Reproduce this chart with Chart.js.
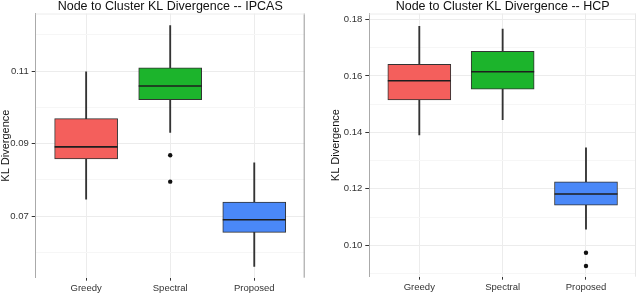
<!DOCTYPE html>
<html lang="en">
<head>
<meta charset="UTF-8" />
<title>Node to Cluster KL Divergence</title>
<script src="https://cdn.jsdelivr.net/npm/chart.js"></script>
<style>
  body {
    margin: 0;
    background: #fff;
    width: 640px;
    height: 293px;
    position: relative;
    overflow: hidden;
  }
  .panel { position: absolute; top: 0; height: 293px; }
  #left { left: 0; width: 320px; }
  #right { left: 330px; width: 310px; }
</style>
</head>
<body>
<div class="panel" id="left"><canvas id="ipcasChart"></canvas></div>
<div class="panel" id="right"><canvas id="hcpChart"></canvas></div>

<script>
  const categories = ['Greedy', 'Spectral', 'Proposed'];
  const boxColors = ['#f45f5c', '#1cb42c', '#4a88f8'];

  // IPCAS panel
  const ipcasMin = [0.0747, 0.0931, 0.0561];
  const ipcasQ1 = [0.0858, 0.1021, 0.0655];
  const ipcasMedian = [0.0891, 0.1059, 0.0690];
  const ipcasQ3 = [0.0969, 0.1109, 0.0739];
  const ipcasMax = [0.1098, 0.1226, 0.0847];
  const ipcasOutliers = [[], [0.0868, 0.0795], []];
  const ipcasTicks = ['0.07', '0.09', '0.11'];

  // HCP panel
  const hcpMin = [0.1391, 0.1445, 0.1057];
  const hcpQ1 = [0.1515, 0.1553, 0.1142];
  const hcpMedian = [0.1583, 0.1615, 0.1182];
  const hcpQ3 = [0.1641, 0.1687, 0.1225];
  const hcpMax = [0.1776, 0.1766, 0.1345];
  const hcpOutliers = [[], [], [0.0974, 0.0927]];
  const hcpTicks = ['0.10', '0.12', '0.14', '0.16', '0.18'];

  const FONT = 'Liberation Sans, Arial, Helvetica, sans-serif';

  // median bars + panel edges, drawn with the chart's own scales
  const boxExtras = {
    id: 'boxExtras',
    afterDatasetsDraw(chart, args, opts) {
      const ctx = chart.ctx;
      const y = chart.scales.y;
      const area = chart.chartArea;
      const boxes = chart.getDatasetMeta(0).data;
      ctx.save();
      ctx.strokeStyle = '#1e1e1e';
      ctx.lineWidth = 1.6;
      opts.medians.forEach((m, i) => {
        const bar = boxes[i];
        const py = y.getPixelForValue(m);
        ctx.beginPath();
        ctx.moveTo(bar.x - bar.width / 2, py);
        ctx.lineTo(bar.x + bar.width / 2, py);
        ctx.stroke();
      });
      // right edge of panel
      ctx.strokeStyle = opts.edge;
      ctx.lineWidth = 1;
      ctx.beginPath();
      ctx.moveTo(area.right - 0.5, area.top);
      ctx.lineTo(area.right - 0.5, area.bottom);
      ctx.stroke();
      ctx.strokeStyle = '#ececec';
      ctx.beginPath();
      ctx.moveTo(area.left, area.top + 0.5);
      ctx.lineTo(area.right, area.top + 0.5);
      ctx.stroke();
      ctx.restore();
    }
  };

  function drawPanel(id, title, mins, q1, med, q3, maxs, outliers, majors, yMin, yMax, axisW, padRight, xAxisH, edge) {
    const isMajor = v => majors.includes(v.toFixed(2));
    const points = [];
    outliers.forEach((list, i) => list.forEach(v => points.push({ x: i + 1, y: v })));

    new Chart(document.getElementById(id), {
      type: 'bar',
      data: {
        datasets: [
          {
            data: categories.map((c, i) => ({ x: i + 1, y: [q1[i], q3[i]] })),
            backgroundColor: boxColors,
            borderColor: '#333',
            borderWidth: 1,
            borderSkipped: false,
            barThickness: 63,
            grouped: false
          },
          {
            data: categories.map((c, i) => ({ x: i + 1, y: [mins[i], maxs[i]] })),
            backgroundColor: '#333',
            borderWidth: 0,
            barThickness: 1.2,
            grouped: false
          },
          {
            type: 'line',
            data: points,
            showLine: false,
            pointRadius: 2.2,
            pointBackgroundColor: '#111',
            pointBorderWidth: 0
          }
        ]
      },
      options: {
        responsive: true,
        maintainAspectRatio: false,
        animation: false,
        layout: { padding: { left: 0, right: padRight, top: 0, bottom: 0 } },
        plugins: {
          legend: { display: false },
          tooltip: { enabled: false },
          title: {
            display: true,
            fullSize: false,
            text: title,
            color: '#111',
            font: { family: FONT, size: 12.5, weight: 'normal', lineHeight: 1 },
            padding: { top: 0, bottom: 1 }
          },
          boxExtras: { medians: med, edge: edge }
        },
        scales: {
          x: {
            type: 'linear',
            min: 0.4,
            max: 3.6,
            offset: false,
            afterFit: s => { s.height = xAxisH; },
            border: { display: false },
            grid: { offset: false, color: '#ececec', tickColor: '#333', tickLength: 3 },
            ticks: {
              stepSize: 1,
              includeBounds: false,
              autoSkip: false,
              maxRotation: 0,
              padding: 2,
              color: '#333',
              font: { family: FONT, size: 9.5 },
              callback: v => categories[Math.round(v) - 1] || ''
            }
          },
          y: {
            min: yMin,
            max: yMax,
            afterFit: s => { s.width = axisW; },
            border: { display: true, color: '#aaa', width: 1 },
            grid: {
              color: c => isMajor(c.tick.value) ? '#ececec' : '#f6f6f6',
              tickColor: c => isMajor(c.tick.value) ? '#333' : 'rgba(0,0,0,0)',
              tickLength: 4
            },
            ticks: {
              stepSize: 0.01,
              includeBounds: false,
              padding: 3,
              color: '#333',
              font: { family: FONT, size: 9.5 },
              callback: v => isMajor(v) ? v.toFixed(2) : ''
            },
            title: {
              display: true,
              text: 'KL Divergence',
              color: '#111',
              font: { family: FONT, size: 11, lineHeight: 1 },
              padding: 0
            }
          }
        }
      },
      plugins: [boxExtras]
    });
  }

  drawPanel('ipcasChart', 'Node to Cluster KL Divergence -- IPCAS',
    ipcasMin, ipcasQ1, ipcasMedian, ipcasQ3, ipcasMax, ipcasOutliers, ipcasTicks,
    0.053, 0.1259, 35.7, 15.3, 15.3, '#999');

  drawPanel('hcpChart', 'Node to Cluster KL Divergence -- HCP',
    hcpMin, hcpQ1, hcpMedian, hcpQ3, hcpMax, hcpOutliers, hcpTicks,
    0.0889, 0.1821, 39.3, 0.7, 16.3, '#e6e6e6');
</script>
</body>
</html>
